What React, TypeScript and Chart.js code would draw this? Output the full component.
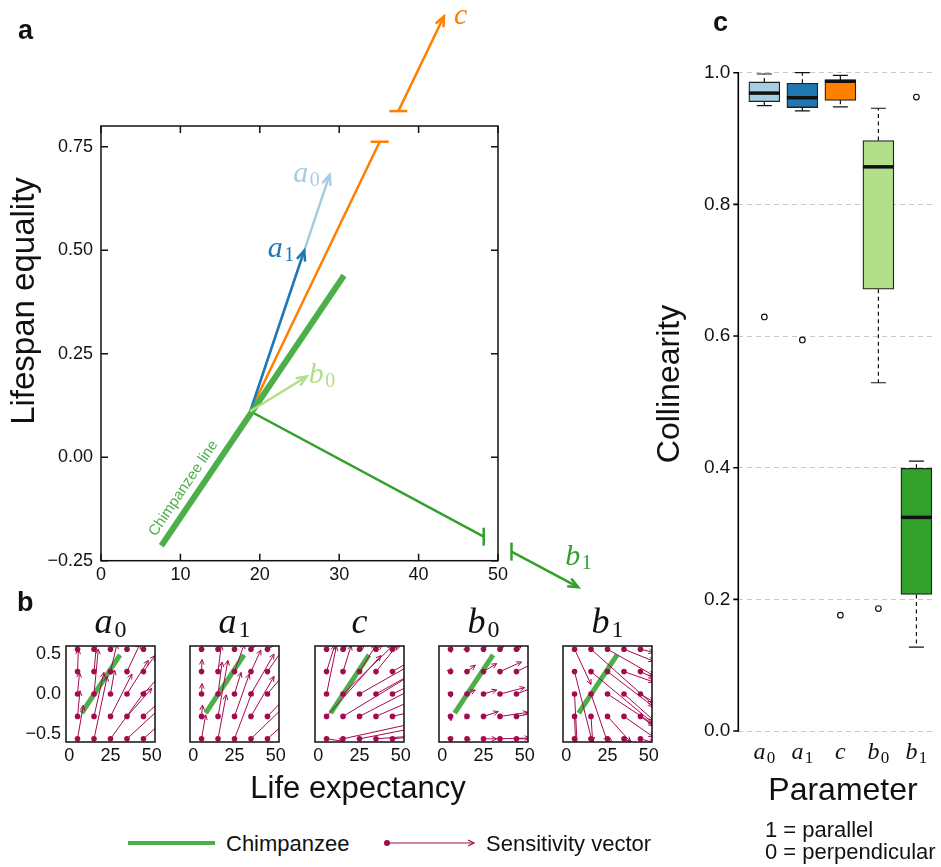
import React, { useEffect, useRef } from 'react';
import { Chart, registerables } from 'chart.js';

Chart.register(...registerables);

const SANS = '"Liberation Sans", Arial, Helvetica, sans-serif';
const SERIF = '"Liberation Serif", "Times New Roman", Times, serif';
const INK = '#111111';

// ---------------- Panel a data ----------------
const chimpX = [7.6, 30.6];
const chimpY = [-0.214, 0.439];
const originX = 18.8;
const originY = 0.111;
const paramNames = ['a', 'a', 'c', 'b', 'b'];
const paramSubs = ['0', '1', '', '0', '1'];
const vectorEndX = [28.8, 25.6, 35.1, 25.9, 48.2];
const vectorEndY = [0.682, 0.499, 0.762, 0.195, -0.192];
const cBreakX = [37.45, 43.2];
const cBreakY = [0.836, 1.065];
const b1BreakX = [51.7, 60.1];
const b1BreakY = [-0.228, -0.314];
const xTicksA = [0, 10, 20, 30, 40, 50];
const yTicksA = [-0.25, 0, 0.25, 0.5, 0.75];

// ---------------- Panel b data ----------------
const gridX = [5, 15, 25, 35, 45];
const gridY = [-0.56, -0.28, 0, 0.28, 0.56];
const chimpBX = [7.5, 30.8];
const chimpBY = [-0.24, 0.49];
const xTicksB = [0, 25, 50];
const yTicksB = [-0.5, 0, 0.5];
// sensitivity vectors: rows from bottom to top, columns left to right
const a0DX = [3.5, 8, 21, 20, 14, 1.5, 6, 13, 15, 14, 1.2, 2.6, 2.5, 13, 14, 0.5, 1.8, 4, 8, 7, 0.5, 1, 1.5, 4, 5];
const a0DY = [0.42, 0.78, 0.6, 0.38, 0.26, 0.32, 0.55, 0.53, 0.35, 0.26, 0.27, 0.56, 0.3, 0.42, 0.32, 0.28, 0.4, 0.35, 0.35, 0.2, 0.25, 0.2, 0.2, 0.15, 0.2];
const a1DX = [2.5, 5, 11, 20, 14, 0.6, 6, 9, 14, 14, 0.3, 2.5, 4, 14, 14, 0.3, 2, 6, 6, 10, 0.5, 1, 4, 7, 9];
const a1DY = [0.3, 0.55, 0.6, 0.4, 0.26, 0.14, 0.7, 0.53, 0.5, 0.3, 0.13, 0.4, 0.27, 0.5, 0.35, 0.15, 0.33, 0.35, 0.27, 0.3, 0.2, 0.15, 0.2, 0.1, 0.1];
const cDX = [10, 40, 30, 20, 10, 33, 40, 30, 20, 10, 6, 30, 30, 20, 10, 5, 5, 10, 13, 10, 3, 2, 3, 4, 5];
const cDY = [-0.03, 0.18, 0.12, 0.03, 0.02, 0.76, 0.5, 0.32, 0.18, 0.05, 0.6, 0.6, 0.35, 0.23, 0.1, 0.33, 0.33, 0.33, 0.33, 0.12, 0.1, 0.05, 0.05, 0.05, 0.05];
const b0DX = [0.3, 2, 8, 18, 10, 0.2, 1.5, 9, 17, 10, 0.2, 5, 8, 15, 10, 0.6, 5, 8, 13, 10, 0.3, 1, 1.5, 2, 3];
const b0DY = [-0.04, -0.01, 0, 0.01, 0, -0.05, 0, 0.06, 0.05, 0.04, -0.04, 0.05, 0.05, 0.08, 0.08, -0.02, 0.08, 0.1, 0.12, 0.1, -0.04, 0.02, 0.03, 0.03, 0.04];
const b1DX = [0.5, 0.5, 3, 5, 8, 1, 1, 14, 18, 8, 2, 10, 28, 18, 8, 11, 38, 28, 18, 8, 10, 38, 28, 18, 8];
const b1DY = [-0.1, -0.05, -0.05, -0.05, -0.05, -0.5, -0.32, -0.32, -0.26, -0.12, -0.8, -0.6, -0.38, -0.33, -0.1, -0.9, -0.65, -0.44, -0.13, -0.08, -0.44, -0.7, -0.33, -0.15, -0.04];
const panelDX = [a0DX, a1DX, cDX, b0DX, b1DX];
const panelDY = [a0DY, a1DY, cDY, b0DY, b1DY];

// ---------------- Panel c data ----------------
const boxMin = [0.95, 0.942, 0.948, 0.529, 0.1275];
const boxQ1 = [0.956, 0.947, 0.958, 0.671, 0.2075];
const boxMedian = [0.969, 0.962, 0.987, 0.857, 0.3245];
const boxQ3 = [0.986, 0.984, 0.989, 0.897, 0.399];
const boxMax = [0.998, 1.0, 0.996, 0.946, 0.41];
const outlierY = [0.629, 0.594, 0.176, 0.186, 0.963];
const yTicksC = [0, 0.2, 0.4, 0.6, 0.8, 1.0];

// ---------------- styles ----------------
const paramColors = ['#a6cee3', '#1f78b4', '#ff7f00', '#b2df8a', '#33a02c'];
const CHIMP_GREEN = '#4daf4a';
const VECTOR_RED = '#a40b4f';
const labelOffX = [-10, -10, 10, 2, -13];
const labelOffY = [7, 6, 7.5, 7, -22];
const labelAlign = ['right', 'right', 'left', 'left', 'left'];

const fmt = (v: number, d: number) => (v < -1e-9 ? '\u2212' : '') + Math.abs(v).toFixed(d);

function drawSubText(ctx: any, main: string, sub: string, x: number, y: number, align: string,
  mainSize: number, subSize: number, subDrop: number, color: string) {
  ctx.save();
  ctx.fillStyle = color;
  ctx.textBaseline = 'alphabetic';
  ctx.textAlign = 'left';
  ctx.font = `italic ${mainSize}px ${SERIF}`;
  const wm = ctx.measureText(main).width;
  ctx.font = `${subSize}px ${SERIF}`;
  const ws = sub ? ctx.measureText(sub).width : 0;
  const gap = sub ? mainSize * 0.05 : 0;
  const total = wm + gap + ws;
  const x0 = align === 'center' ? x - total / 2 : align === 'right' ? x - total : x;
  ctx.font = `italic ${mainSize}px ${SERIF}`;
  ctx.fillText(main, x0, y);
  if (sub) {
    ctx.font = `${subSize}px ${SERIF}`;
    ctx.fillText(sub, x0 + wm + gap, y + subDrop);
  }
  ctx.restore();
}

function drawRotatedTitle(ctx: any, text: string, x: number, y: number, size: number) {
  ctx.save();
  ctx.translate(x, y);
  ctx.rotate(-Math.PI / 2);
  ctx.font = `${size}px ${SANS}`;
  ctx.fillStyle = INK;
  ctx.textAlign = 'center';
  ctx.textBaseline = 'middle';
  ctx.fillText(text, 0, 0);
  ctx.restore();
}

const arrowPlugin = {
  id: 'arrowHeads',
  afterDatasetsDraw(chart: any) {
    const { ctx, chartArea: a } = chart;
    chart.data.datasets.forEach((ds: any, i: number) => {
      const pts = chart.getDatasetMeta(i).data;
      if (!ds.arrow && !ds.capStart && !ds.capEnd) return;
      if (pts.length < 2) return;
      const first = pts[0];
      const last = pts[pts.length - 1];
      const prev = pts[pts.length - 2];
      ctx.save();
      if (ds.clipArrow) {
        ctx.beginPath();
        ctx.rect(a.left, a.top, a.right - a.left, a.bottom - a.top);
        ctx.clip();
      }
      ctx.strokeStyle = ds.borderColor;
      ctx.lineWidth = ds.borderWidth;
      ctx.lineCap = 'butt';
      ctx.lineJoin = 'miter';
      if (ds.arrow) {
        const ang = Math.atan2(last.y - prev.y, last.x - prev.x);
        const L = ds.arrow;
        const h = ds.arrowAngle || 0.4;
        ctx.beginPath();
        ctx.moveTo(last.x - L * Math.cos(ang - h), last.y - L * Math.sin(ang - h));
        ctx.lineTo(last.x, last.y);
        ctx.lineTo(last.x - L * Math.cos(ang + h), last.y - L * Math.sin(ang + h));
        ctx.stroke();
      }
      const cap = (p: any, dir: string) => {
        const c = 9;
        ctx.beginPath();
        if (dir === 'h') { ctx.moveTo(p.x - c, p.y); ctx.lineTo(p.x + c, p.y); }
        else { ctx.moveTo(p.x, p.y - c); ctx.lineTo(p.x, p.y + c); }
        ctx.stroke();
      };
      if (ds.capStart) cap(first, ds.capStart);
      if (ds.capEnd) cap(last, ds.capEnd);
      ctx.restore();
    });
  },
};

const noInteract = { legend: { display: false }, tooltip: { enabled: false } };

// ---------------- Panel a ----------------
function PanelA() {
  const ref = useRef<HTMLCanvasElement>(null);
  useEffect(() => {
    const pt = (x: number, y: number) => ({ x, y });
    const seg = (pts: any[], color: string, width: number, extra: any = {}) => ({
      data: pts, showLine: true, borderColor: color, backgroundColor: color, borderWidth: width,
      pointRadius: 0, clip: false, ...extra,
    });
    const o = pt(originX, originY);
    const datasets = [
      seg([o, pt(vectorEndX[2], vectorEndY[2])], paramColors[2], 2.5, { capEnd: 'h', order: 10 }),
      seg([pt(cBreakX[0], cBreakY[0]), pt(cBreakX[1], cBreakY[1])], paramColors[2], 2.5, { capStart: 'h', arrow: 11, order: 10 }),
      seg([o, pt(vectorEndX[0], vectorEndY[0])], paramColors[0], 2.5, { arrow: 11, order: 9 }),
      seg([o, pt(vectorEndX[1], vectorEndY[1])], paramColors[1], 2.5, { arrow: 11, order: 8 }),
      seg([o, pt(vectorEndX[4], vectorEndY[4])], paramColors[4], 2.5, { capEnd: 'v', order: 7 }),
      seg([pt(b1BreakX[0], b1BreakY[0]), pt(b1BreakX[1], b1BreakY[1])], paramColors[4], 2.5, { capStart: 'v', arrow: 11, order: 7 }),
      seg([pt(chimpX[0], chimpY[0]), pt(chimpX[1], chimpY[1])], CHIMP_GREEN, 6, { order: 6 }),
      seg([o, pt(vectorEndX[3], vectorEndY[3])], paramColors[3], 2.5, { arrow: 11, order: 5 }),
    ];
    const frame = {
      id: 'frameA',
      afterDraw(chart: any) {
        const { ctx, chartArea: a, scales: { x, y } } = chart;
        ctx.save();
        ctx.strokeStyle = INK;
        ctx.lineWidth = 1.5;
        ctx.strokeRect(a.left, a.top, a.right - a.left, a.bottom - a.top);
        const t = 7;
        ctx.beginPath();
        xTicksA.forEach((v) => {
          const px = x.getPixelForValue(v);
          ctx.moveTo(px, a.bottom); ctx.lineTo(px, a.bottom - t);
          ctx.moveTo(px, a.top); ctx.lineTo(px, a.top + t);
        });
        yTicksA.forEach((v) => {
          const py = y.getPixelForValue(v);
          ctx.moveTo(a.left, py); ctx.lineTo(a.left + t, py);
          ctx.moveTo(a.right, py); ctx.lineTo(a.right - t, py);
        });
        ctx.stroke();
        ctx.restore();
        drawRotatedTitle(ctx, 'Lifespan equality', 25, 301, 33);
        // labels for vectors
        const tipsX = [vectorEndX[0], vectorEndX[1], cBreakX[1], vectorEndX[3], b1BreakX[1]];
        const tipsY = [vectorEndY[0], vectorEndY[1], cBreakY[1], vectorEndY[3], b1BreakY[1]];
        paramNames.forEach((n, i) => {
          drawSubText(ctx, n, paramSubs[i], x.getPixelForValue(tipsX[i]) + labelOffX[i],
            y.getPixelForValue(tipsY[i]) + labelOffY[i], labelAlign[i], 30, 20, 4, paramColors[i]);
        });
        // chimpanzee line label
        const p0x = x.getPixelForValue(chimpX[0]);
        const p0y = y.getPixelForValue(chimpY[0]);
        const p1x = x.getPixelForValue(chimpX[1]);
        const p1y = y.getPixelForValue(chimpY[1]);
        const len = Math.hypot(p1x - p0x, p1y - p0y);
        const ux = (p1x - p0x) / len;
        const uy = (p1y - p0y) / len;
        const along = len * 0.184;
        const off = 13.8;
        const cx = p0x + ux * along + uy * off;
        const cy = p0y + uy * along - ux * off;
        ctx.save();
        ctx.translate(cx, cy);
        ctx.rotate(Math.atan2(uy, ux));
        ctx.font = `15px ${SANS}`;
        ctx.fillStyle = CHIMP_GREEN;
        ctx.textAlign = 'center';
        ctx.textBaseline = 'middle';
        ctx.fillText('Chimpanzee line', 0, 0);
        ctx.restore();
      },
    };
    const chart = new Chart(ref.current as HTMLCanvasElement, {
      type: 'scatter',
      data: { datasets } as any,
      options: {
        responsive: false,
        animation: false,
        events: [],
        layout: { padding: { top: 126, right: 122, left: 0, bottom: 0 } },
        scales: {
          x: {
            type: 'linear', min: 0, max: 50,
            afterBuildTicks: (s: any) => { s.ticks = xTicksA.map((v) => ({ value: v })); },
            ticks: { font: { family: SANS, size: 18 }, color: INK, padding: 4, maxRotation: 0, callback: (v: any) => String(v) },
            grid: { display: false, drawTicks: false },
            border: { display: false },
            afterFit: (s: any) => { s.height = 39.3; },
          },
          y: {
            type: 'linear', min: -0.25, max: 0.8,
            afterBuildTicks: (s: any) => { s.ticks = yTicksA.map((v) => ({ value: v })); },
            ticks: { font: { family: SANS, size: 18 }, color: INK, padding: 8, callback: (v: any) => fmt(v, 2) },
            grid: { display: false, drawTicks: false },
            border: { display: false },
            afterFit: (s: any) => { s.width = 101; },
          },
        },
        plugins: noInteract,
      } as any,
      plugins: [arrowPlugin, frame],
    });
    return () => chart.destroy();
  }, []);
  return <canvas ref={ref} width={620} height={600} style={{ position: 'absolute', left: 0, top: 0, width: 620, height: 600 }} />;
}

// ---------------- Panel b ----------------
function PanelB({ k }: { k: number }) {
  const ref = useRef<HTMLCanvasElement>(null);
  useEffect(() => {
    const dx = panelDX[k];
    const dy = panelDY[k];
    const datasets: any[] = [];
    const dots: any[] = [];
    gridY.forEach((y, r) => gridX.forEach((x, c) => {
      const i = r * gridX.length + c;
      dots.push({ x, y });
      datasets.push({
        data: [{ x, y }, { x: x + dx[i], y: y + dy[i] }], showLine: true, borderColor: VECTOR_RED,
        borderWidth: 1, pointRadius: 0, arrow: 5.5, arrowAngle: 0.45, clipArrow: true, order: 2,
      });
    }));
    datasets.push({ data: dots, showLine: false, pointRadius: 2.8, pointBackgroundColor: VECTOR_RED, pointBorderWidth: 0, order: 1 });
    datasets.push({
      data: chimpBX.map((x, i) => ({ x, y: chimpBY[i] })), showLine: true, borderColor: CHIMP_GREEN,
      borderWidth: 5, pointRadius: 0, order: 3,
    });
    const deco = {
      id: 'decoB',
      afterDraw(chart: any) {
        const { ctx, chartArea: a } = chart;
        ctx.save();
        ctx.strokeStyle = INK;
        ctx.lineWidth = 1.5;
        ctx.strokeRect(a.left, a.top, a.right - a.left, a.bottom - a.top);
        ctx.restore();
        drawSubText(ctx, paramNames[k], paramSubs[k], (a.left + a.right) / 2, 33.3, 'center', 36, 24, 3.5, INK);
      },
    };
    const chart = new Chart(ref.current as HTMLCanvasElement, {
      type: 'scatter',
      data: { datasets },
      options: {
        responsive: false,
        animation: false,
        events: [],
        layout: { padding: { top: 46, right: 15, left: 0, bottom: 0 } },
        scales: {
          x: {
            type: 'linear', min: -2, max: 52,
            afterBuildTicks: (s: any) => { s.ticks = xTicksB.map((v) => ({ value: v })); },
            ticks: { font: { family: SANS, size: 18 }, color: INK, padding: 3, maxRotation: 0, callback: (v: any) => String(v) },
            grid: { display: false, drawTicks: false },
            border: { display: false },
            afterFit: (s: any) => { s.height = 28; },
          },
          y: {
            type: 'linear', min: -0.6, max: 0.6,
            afterBuildTicks: (s: any) => { s.ticks = yTicksB.map((v) => ({ value: v })); },
            ticks: { display: k === 0, font: { family: SANS, size: 18 }, color: INK, padding: 5, callback: (v: any) => fmt(v, 1) },
            grid: { display: false, drawTicks: false },
            border: { display: false },
            afterFit: (s: any) => { s.width = 66; },
          },
        },
        plugins: noInteract,
      } as any,
      plugins: [arrowPlugin, deco],
    });
    return () => chart.destroy();
  }, [k]);
  return <canvas ref={ref} width={170} height={170} style={{ position: 'absolute', left: 124.3 * k, top: 600, width: 170, height: 170 }} />;
}

// ---------------- Panel c ----------------
const C_LEFT = 640;
function PanelC() {
  const ref = useRef<HTMLCanvasElement>(null);
  useEffect(() => {
    const boxes = boxQ1.map((q, i) => ({ x: i + 1, y: [q, boxQ3[i]] }));
    const outliers = outlierY.map((v, i) => ({ x: i + 1, y: v }));
    const boxDeco = {
      id: 'boxDeco',
      afterDatasetsDraw(chart: any) {
        const { ctx, scales: { x, y } } = chart;
        ctx.save();
        ctx.strokeStyle = INK;
        boxQ1.forEach((q1, i) => {
          const cx = x.getPixelForValue(i + 1);
          ctx.lineWidth = 1.2;
          ctx.setLineDash([4, 3.5]);
          ctx.beginPath();
          ctx.moveTo(cx, y.getPixelForValue(boxQ3[i])); ctx.lineTo(cx, y.getPixelForValue(boxMax[i]));
          ctx.moveTo(cx, y.getPixelForValue(q1)); ctx.lineTo(cx, y.getPixelForValue(boxMin[i]));
          ctx.stroke();
          ctx.setLineDash([]);
          ctx.beginPath();
          [boxMax[i], boxMin[i]].forEach((v) => {
            const py = y.getPixelForValue(v);
            ctx.moveTo(cx - 7.5, py); ctx.lineTo(cx + 7.5, py);
          });
          ctx.stroke();
          ctx.lineWidth = 3.5;
          ctx.beginPath();
          const pm = y.getPixelForValue(boxMedian[i]);
          ctx.moveTo(cx - 15.5, pm); ctx.lineTo(cx + 15.5, pm);
          ctx.stroke();
        });
        ctx.restore();
      },
      afterDraw(chart: any) {
        const { ctx, chartArea: a, scales: { x, y } } = chart;
        // y axis line and outward ticks
        ctx.save();
        ctx.setLineDash([]);
        ctx.strokeStyle = '#000000';
        ctx.lineWidth = 1.6;
        ctx.beginPath();
        ctx.moveTo(a.left, y.getPixelForValue(0) + 0.8);
        ctx.lineTo(a.left, y.getPixelForValue(1) - 0.8);
        yTicksC.forEach((v) => {
          const py = y.getPixelForValue(v);
          ctx.moveTo(a.left, py); ctx.lineTo(a.left - 5, py);
        });
        ctx.stroke();
        ctx.restore();
        paramNames.forEach((n, i) => {
          drawSubText(ctx, n, paramSubs[i], x.getPixelForValue(i + 1), 759.3, 'center', 24, 17, 4, INK);
        });
        drawRotatedTitle(ctx, 'Collinearity', 670 - C_LEFT, 384, 32);
        ctx.save();
        ctx.font = `32px ${SANS}`;
        ctx.fillStyle = INK;
        ctx.textAlign = 'center';
        ctx.textBaseline = 'alphabetic';
        ctx.fillText('Parameter', 843 - C_LEFT, 800);
        ctx.restore();
      },
    };
    const chart = new Chart(ref.current as HTMLCanvasElement, {
      type: 'bar',
      data: {
        datasets: [
          {
            type: 'scatter', data: outliers, pointRadius: 2.8, pointBackgroundColor: '#ffffff',
            pointBorderColor: INK, pointBorderWidth: 1.2, order: 0,
          },
          {
            type: 'bar', data: boxes, backgroundColor: paramColors, borderColor: '#222222',
            borderWidth: 1.3, borderSkipped: false, barThickness: 31, order: 1,
          },
        ],
      } as any,
      options: {
        responsive: false,
        animation: false,
        events: [],
        layout: { padding: { top: 72.7, right: 0, left: 0, bottom: 0 } },
        scales: {
          x: {
            type: 'linear', min: 0.315, max: 5.51, offset: false,
            ticks: { display: false },
            grid: { display: false, drawTicks: false, offset: false },
            border: { display: false },
            afterFit: (s: any) => { s.height = 136; },
          },
          y: {
            type: 'linear', min: 0, max: 1,
            afterBuildTicks: (s: any) => { s.ticks = yTicksC.map((v) => ({ value: v })); },
            ticks: { font: { family: SANS, size: 19 }, color: INK, padding: 8, callback: (v: any) => Number(v).toFixed(1) },
            grid: { color: '#c8c8c8', lineWidth: 1, drawTicks: false },
            border: { display: false, dash: [5, 4] },
            afterFit: (s: any) => { s.width = 738.3 - C_LEFT; },
          },
        },
        plugins: noInteract,
      } as any,
      plugins: [boxDeco],
    });
    return () => chart.destroy();
  }, []);
  return <canvas ref={ref} width={941 - C_LEFT} height={867} style={{ position: 'absolute', left: C_LEFT, top: 0, width: 941 - C_LEFT, height: 867 }} />;
}

function Txt({ x, base, size, children, bold, center }: any) {
  return (
    <div style={{
      position: 'absolute', left: x, top: base - 0.8465 * size, fontSize: size, lineHeight: `${size}px`,
      fontFamily: SANS, fontWeight: bold ? 700 : 400, color: INK, whiteSpace: 'nowrap',
      transform: center ? 'translateX(-50%)' : undefined,
    }}>{children}</div>
  );
}

export default function App() {
  return (
    <div style={{ position: 'absolute', left: 0, top: 0, width: 941, height: 867, background: '#ffffff', overflow: 'hidden' }}>
      <PanelA />
      {[0, 1, 2, 3, 4].map((k) => <PanelB key={k} k={k} />)}
      <PanelC />
      <Txt x={18} base={40} size={27} bold>a</Txt>
      <Txt x={17} base={612} size={27} bold>b</Txt>
      <Txt x={713} base={32} size={27} bold>c</Txt>
      <Txt x={358} base={798} size={31} center>Life expectancy</Txt>
      <svg style={{ position: 'absolute', left: 120, top: 833 }} width={100} height={20}>
        <line x1={8} y1={10} x2={95} y2={10} stroke={CHIMP_GREEN} strokeWidth={4} />
      </svg>
      <Txt x={226} base={851.5} size={22}>Chimpanzee</Txt>
      <svg style={{ position: 'absolute', left: 380, top: 833 }} width={100} height={20}>
        <line x1={7} y1={10} x2={94} y2={10} stroke={VECTOR_RED} strokeWidth={1.2} />
        <circle cx={7} cy={10} r={3} fill={VECTOR_RED} />
        <polyline points="88,7 94,10 88,13" fill="none" stroke={VECTOR_RED} strokeWidth={1.2} />
      </svg>
      <Txt x={486} base={851.5} size={22}>Sensitivity vector</Txt>
      <Txt x={765} base={838} size={22}>1 = parallel</Txt>
      <Txt x={765} base={860} size={22}>0 = perpendicular</Txt>
    </div>
  );
}
